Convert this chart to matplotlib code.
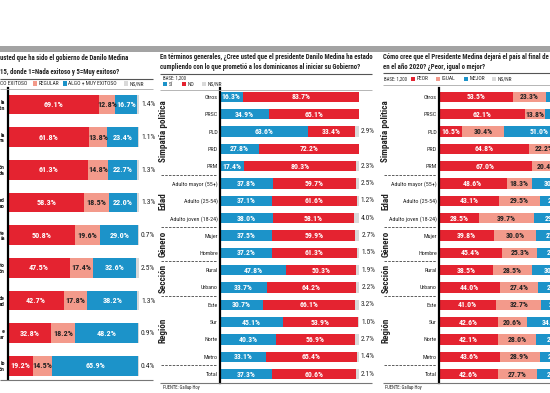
import matplotlib
matplotlib.use('Agg')
from matplotlib import pyplot as plt
from matplotlib import font_manager
from matplotlib.patches import Rectangle
import numpy as np

names = {f.name for f in font_manager.fontManager.ttflist}
FONT = 'DejaVu Sans'
for cand in ['Liberation Sans Narrow', 'Roboto Condensed', 'Open Sans Condensed', 'Roboto']:
    if cand in names:
        FONT = cand
        break
plt.rcParams['font.family'] = FONT

W, H = 550, 393
RED = '#e42330'
PINK = '#f39a8b'
BLUE = '#1c93c9'
GRAY = '#d9d9d9'
TXT = '#222222'

# panel 1 (cut at the left edge)
left_tags = [('la', 'ión'), ('la', 'na'), ('ón', 'da'), ('ad', 'eo'), ('te', 'ía'),
             ('to', 'ón'), ('de', 'ed'), ('e', 'ar'), ('lo', 'ón')]
left_bad = [69.1, 61.8, 61.3, 58.3, 50.8, 47.5, 42.7, 32.8, 19.2]
left_reg = [12.8, 13.8, 14.8, 18.5, 19.6, 17.4, 17.8, 18.2, 14.5]
left_good = [16.7, 23.4, 22.7, 22.0, 29.0, 32.6, 38.2, 48.2, 65.9]
left_ns = [1.4, 1.1, 1.3, 1.3, 0.7, 2.5, 1.3, 0.9, 0.4]

# panels 2 and 3
rows = ['Otros', 'PRSC', 'PLD', 'PRD', 'PRM', 'Adulto mayor (55+)', 'Adulto (25-54)',
        'Adulto joven (18-24)', 'Mujer', 'Hombre', 'Rural', 'Urbano', 'Este', 'Sur',
        'Norte', 'Metro', 'Total']
groups = [('Simpatía política', 0, 4), ('Edad', 5, 7), ('Género', 8, 9),
          ('Sección', 10, 11), ('Región', 12, 15)]

mid_si = [16.3, 34.9, 63.6, 27.8, 17.4, 37.8, 37.1, 38.0, 37.5, 37.2, 47.8, 33.7, 30.7, 45.1, 40.3, 33.1, 37.3]
mid_no = [83.7, 65.1, 33.4, 72.2, 80.3, 59.7, 61.6, 58.1, 59.9, 61.3, 50.3, 64.2, 66.1, 53.9, 56.9, 65.4, 60.6]
mid_ns = [0, 0, 2.9, 0, 2.3, 2.5, 1.2, 4.0, 2.7, 1.5, 1.9, 2.2, 3.2, 1.0, 2.7, 1.4, 2.1]

der_peor = [53.5, 62.1, 16.5, 64.8, 67.0, 48.6, 43.1, 28.5, 39.8, 45.4, 38.5, 44.0, 41.0, 42.6, 42.1, 43.6, 42.6]
der_igual = [23.3, 13.8, 30.4, 22.2, 20.4, 18.3, 29.5, 39.7, 30.0, 25.3, 28.5, 27.4, 32.7, 20.6, 28.0, 28.9, 27.7]
der_mejor = [21.0, 21.6, 51.0, 10.5, 10.4, 30.6, 25.3, 29.6, 27.9, 27.2, 30.8, 26.4, 24.1, 34.6, 27.7, 25.4, 27.6]
der_ns = [2.2, 2.5, 2.1, 2.5, 2.2, 2.5, 2.1, 2.2, 2.3, 2.1, 2.2, 2.2, 2.2, 2.2, 2.2, 2.1, 2.1]

fig = plt.figure(figsize=(W / 100, H / 100), dpi=100)
fig.patch.set_facecolor('white')
renderer = fig.canvas.get_renderer()


def fit_size(text, width, weight='normal'):
    # font size (pt) at which the text is about `width` pixels wide
    t = fig.text(0, 0, text, fontsize=10, fontweight=weight)
    w = t.get_window_extent(renderer).width
    t.remove()
    return 10 * width / w


TFS = fit_size('En términos generales, ¿Cree usted que el presidente Danilo Medina ha estado', 212, 'bold')
RFS = fit_size('Adulto joven (18-24)', 48)
BFS = fit_size('83.7%', 19, 'bold')
LFS = fit_size('ALGO + MUY EXITOSO', 48)
GFS = fit_size('Simpatía política', 62, 'bold')


def px_axes(x0, y0, x1, y1):
    return fig.add_axes([x0 / W, 1 - y1 / H, (x1 - x0) / W, (y1 - y0) / H])


def setup(ax, n, bottom_pad=0.5):
    ax.set_xlim(0, 100)
    ax.set_ylim(n - 1 + bottom_pad, -0.5)
    for s in ['top', 'right', 'bottom']:
        ax.spines[s].set_visible(False)
    ax.spines['left'].set_color('black')
    ax.spines['left'].set_linewidth(1.6)
    ax.set_xticks([])
    ax.tick_params(axis='y', length=0)
    ax.patch.set_alpha(0)


def stack(ax, series, colors, tcolors, h, fs, ns_label=True):
    y = np.arange(len(series[0]))
    left = np.zeros(len(y))
    for vals, c, tc in zip(series, colors, tcolors):
        vals = np.array(vals, dtype=float)
        ax.barh(y, vals, left=left, height=h, color=c, linewidth=0)
        for yi, l, v in zip(y, left, vals):
            if tc is not None and v >= 6:
                ax.text(l + v / 2, yi, f'{v:.1f}%', ha='center', va='center',
                        color=tc, fontsize=fs, fontweight='bold', clip_on=False)
        left = left + vals
    if ns_label:
        for yi, l, v in zip(y, left, series[-1]):
            if v > 0:
                ax.text(l + 1.5, yi, f'{v:.1f}%', ha='left', va='center',
                        color=TXT, fontsize=fs * 0.95, clip_on=False)


# panel 1 bars
ax1 = px_axes(8, 88, 139, 379)
setup(ax1, len(left_bad), bottom_pad=0.4)
stack(ax1, [left_bad, left_reg, left_good, left_ns], [RED, PINK, BLUE, GRAY],
      ['white', TXT, 'white', None], 0.6, BFS * 1.05)
ax1.set_yticks(range(len(left_tags)))
ax1.set_yticklabels([a + '\n' + b for a, b in left_tags], fontsize=RFS,
                    fontweight='bold', color=TXT, linespacing=1.2)
ax1.tick_params(axis='y', pad=2.2)

# panel 2 bars
TOP, BOT = 88.3, 382.7
ax2 = px_axes(220, TOP, 359, BOT)
setup(ax2, len(rows))
stack(ax2, [mid_si, mid_no, mid_ns], [BLUE, RED, GRAY], ['white', 'white', None], 0.6, BFS)
ax2.set_yticks(range(len(rows)))
ax2.set_yticklabels(rows, fontsize=RFS, color=TXT)
ax2.tick_params(axis='y', pad=1.6)

# panel 3 bars (cut at the right edge)
ax3 = px_axes(439, TOP, 578, BOT)
setup(ax3, len(rows))
stack(ax3, [der_peor, der_igual, der_mejor, der_ns], [RED, PINK, BLUE, GRAY],
      ['white', TXT, 'white', None], 0.6, BFS, ns_label=False)
ax3.set_yticks(range(len(rows)))
ax3.set_yticklabels(rows, fontsize=RFS, color=TXT)
ax3.tick_params(axis='y', pad=1.6)

# overlay in pixel coordinates for titles, legends and rules
ov = fig.add_axes([0, 0, 1, 1])
ov.set_xlim(0, W)
ov.set_ylim(H, 0)
ov.axis('off')
ov.patch.set_alpha(0)

ov.add_patch(Rectangle((0, 46), W, 6, color='#a3a3a3', lw=0))


def hline(y, x0, x1, c='#555555', lw=0.8, ls='-'):
    ov.plot([x0, x1], [y, y], color=c, lw=lw, ls=ls, solid_capstyle='butt')


def legend(items, y, fs=LFS):
    for x, label, c in items:
        if c is not None:
            ov.add_patch(Rectangle((x, y - 2.3), 4.2, 4.6, color=c, lw=0))
            x += 5.5
        ov.text(x, y, label, fontsize=fs, color=TXT, va='center', ha='left')


def title(x, y, s):
    ov.text(x, y, s, fontsize=TFS, fontweight='bold', color=TXT, va='center')


# panel 1 header
title(0, 58, 'usted que ha sido el gobierno de Danilo Medina')
title(0, 72, '15, donde 1=Nada exitoso y 5=Muy exitoso?')
hline(78.5, 0, 153)
legend([(0, 'CO EXITOSO', None), (33, 'REGULAR', PINK), (63, 'ALGO + MUY EXITOSO', BLUE),
        (124, 'NS/NR', GRAY)], 83.5)
hline(89, 0, 153, '#aaaaaa', 0.6)
hline(380, 0, 153, '#777777', 0.8)

# panel 2 header
title(160, 57, 'En términos generales, ¿Cree usted que el presidente Danilo Medina ha estado')
title(160, 67, 'cumpliendo con lo que prometió a los dominicanos al iniciar su Gobierno?')
hline(73.5, 160, 372)
ov.text(163, 78, 'BASE: 1,200', fontsize=LFS * 0.9, color=TXT, va='center')
legend([(163, 'SÍ', BLUE), (182, 'NO', RED), (202, 'NS/NR', GRAY)], 84)
hline(89.5, 160, 372, '#aaaaaa', 0.6)
hline(383, 160, 372, '#777777', 0.8)
ov.text(163, 387.5, 'FUENTE: Gallup-Hoy', fontsize=LFS * 0.85, color=TXT, va='center')

# panel 3 header
title(383, 57, 'Cómo cree que el Presidente Medina dejará el país al final de')
title(383, 67, 'en el año 2020? ¿Peor, igual o mejor?')
hline(73, 383, W)
ov.text(384, 79, 'BASE: 1,200', fontsize=LFS * 0.9, color=TXT, va='center')
legend([(411, 'PEOR', RED), (436, 'IGUAL', PINK), (464, 'MEJOR', BLUE), (492, 'NS/NR', GRAY)], 79)
hline(85, 383, W, '#aaaaaa', 0.6)
hline(383, 383, W, '#777777', 0.8)
ov.text(385, 387.5, 'FUENTE: Gallup-Hoy', fontsize=LFS * 0.85, color=TXT, va='center')

step = (BOT - TOP) / len(rows)


def row_y(i):
    return TOP + (i + 0.5) * step


# group labels and dashed separators for panels 2 and 3
for gx, sx0, sx1 in [(163.5, 161, 217), (386, 384, 436)]:
    for name, a, b in groups:
        ov.text(gx, (row_y(a) + row_y(b)) / 2, name, rotation=90, fontsize=GFS,
                fontweight='bold', color=TXT, ha='center', va='center')
        hline(row_y(b) + step / 2, sx0, sx1, '#444444', 0.6, (0, (3, 1.5)))

fig.savefig('out.png', dpi=100, facecolor='white')
